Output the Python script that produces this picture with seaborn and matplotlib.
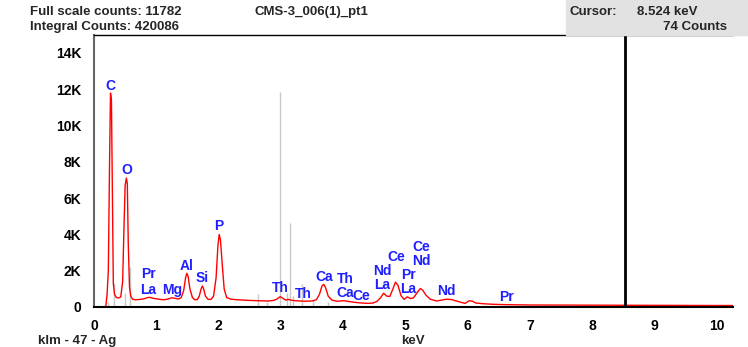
import matplotlib
matplotlib.use("Agg")
import matplotlib.pyplot as plt
import matplotlib.patches as mpatches
import seaborn as sns
import pandas as pd

# ---------------- data ----------------
spec_kev = [0.17, 0.19, 0.21, 0.23, 0.25, 0.265, 0.28, 0.295, 0.31, 0.33, 0.36, 0.40,
            0.43, 0.46, 0.48, 0.50, 0.52, 0.535, 0.55, 0.57, 0.59, 0.62, 0.66, 0.72,
            0.80, 0.86, 0.90, 0.95, 1.00, 1.06, 1.12, 1.18, 1.25, 1.30, 1.36, 1.40,
            1.44, 1.47, 1.49, 1.51, 1.54, 1.58, 1.62, 1.66, 1.69, 1.72, 1.74, 1.76,
            1.79, 1.83, 1.88, 1.92, 1.96, 1.99, 2.01, 2.03, 2.06, 2.09, 2.13, 2.20,
            2.30, 2.40, 2.50, 2.60, 2.70, 2.80, 2.88, 2.93, 2.99, 3.04, 3.08, 3.12,
            3.16, 3.22, 3.30, 3.40, 3.50, 3.57, 3.62, 3.66, 3.69, 3.72, 3.76, 3.82,
            3.90, 3.96, 4.01, 4.06, 4.12, 4.20, 4.30, 4.40, 4.48, 4.54, 4.60, 4.65,
            4.70, 4.75, 4.80, 4.84, 4.88, 4.93, 4.98, 5.03, 5.08, 5.13, 5.19, 5.24,
            5.28, 5.33, 5.40, 5.50, 5.58, 5.66, 5.74, 5.82, 5.90, 5.96, 6.02, 6.07,
            6.13, 6.25, 6.40, 6.60, 6.80, 7.00, 7.50, 8.00, 8.50, 9.00, 9.50, 10.00,
            10.26]
spec_counts = [0, 60, 700, 2000, 8000, 11782, 11400, 6500, 1300, 700, 520, 500,
               560, 1400, 4200, 6700, 7100, 6800, 3500, 1100, 600, 430, 400, 410,
               450, 520, 530, 480, 450, 420, 400, 430, 510, 480, 440, 520,
               900, 1600, 1855, 1700, 1000, 520, 400, 410, 600, 1000, 1156, 1000,
               600, 420, 420, 600, 1600, 3400, 4000, 3700, 2300, 1000, 520, 430,
               400, 380, 360, 350, 340, 330, 360, 420, 570, 460, 380, 420,
               380, 350, 330, 320, 330, 400, 700, 1150, 1250, 1050, 600, 380,
               320, 330, 350, 320, 290, 250, 220, 200, 220, 300, 500, 760,
               600, 580, 1000, 1370, 1200, 620, 420, 560, 470, 500, 800, 1020,
               920, 650, 430, 330, 380, 430, 410, 330, 250, 200, 340, 330,
               220, 180, 150, 130, 120, 110, 105, 100, 95, 90, 85, 80,
               80]

# light-grey line markers
marker_kev = [0.22, 0.32, 0.49, 0.57, 2.63, 2.78, 2.98, 3.10, 3.14, 3.19, 3.34, 3.52, 3.76]
marker_counts = [300, 1340, 770, 2220, 700, 300, 11820, 770, 4600, 600, 1260, 440, 250]

# element labels
label_text = ["C", "O", "Pr", "La", "Mg", "Al", "Si", "P", "Th", "Th", "Ca", "Th", "Ca",
              "Ce", "Nd", "La", "Ce", "Pr", "La", "Ce", "Nd", "Nd", "Pr"]
label_kev = [0.265, 0.52, 0.875, 0.875, 1.26, 1.48, 1.74, 2.01, 2.99, 3.36, 3.70, 4.03, 4.03,
             4.29, 4.63, 4.63, 4.85, 5.05, 5.05, 5.25, 5.25, 5.66, 6.63]
label_counts = [12170, 7545, 1820, 940, 940, 2260, 1600, 4460, 1040, 720, 1630, 1540, 750,
                630, 1990, 1200, 2750, 1760, 970, 3300, 2540, 880, 570]

y_ticks = [0, 2000, 4000, 6000, 8000, 10000, 12000, 14000]
y_tick_labels = ["0", "2K", "4K", "6K", "8K", "10K", "12K", "14K"]
x_ticks = [0, 1, 2, 3, 4, 5, 6, 7, 8, 9, 10]

cursor_kev = 8.524
title_text = "CMS-3_006(1)_pt1"
full_scale = "Full scale counts: 11782"
integral = "Integral Counts: 420086"
cursor_label = "Cursor:"
cursor_value = "8.524 keV"
cursor_counts = "74 Counts"
left_label = "klm - 47 - Ag"
x_label = "keV"

# ---------------- plotting ----------------
sns.set_style("white")
plt.rcParams["font.family"] = ["Liberation Sans", "DejaVu Sans"]
plt.rcParams["font.weight"] = "bold"

fig = plt.figure(figsize=(7.48, 3.47), dpi=100)
ax = fig.add_axes([94 / 748, 1 - 307 / 347, (733 - 94) / 748, (307 - 35) / 347])

ax.vlines(marker_kev, 0, marker_counts, color="#c8c8c8", linewidth=1.0, zorder=1)

df = pd.DataFrame({"keV": spec_kev, "counts": spec_counts})
sns.lineplot(data=df, x="keV", y="counts", ax=ax, color="#ff0000", linewidth=1.0,
             sort=False, zorder=2)

ax.axvline(cursor_kev, color="black", linewidth=2.0, zorder=3)

for t, xk, yc in zip(label_text, label_kev, label_counts):
    ax.text(xk, yc, t, color="#1f1fff", fontsize=10, fontweight="bold",
            ha="center", va="center", zorder=4)

ax.set_xlim(0, 10.26)
ax.set_ylim(0, 14980)
ax.set_xticks(x_ticks)
ax.set_xticklabels([str(v) for v in x_ticks])
ax.set_yticks(y_ticks)
ax.set_yticklabels(y_tick_labels)
ax.set_xlabel("")
ax.set_ylabel("")
ax.tick_params(axis="both", direction="out", length=7, width=1.5, color="#333333",
               labelsize=10, labelcolor="black", pad=2)
for lab in ax.get_xticklabels() + ax.get_yticklabels():
    lab.set_fontweight("bold")

for side in ["left", "bottom", "top"]:
    ax.spines[side].set_visible(True)
ax.spines["right"].set_visible(False)
ax.spines["left"].set_color("#666666")
ax.spines["left"].set_linewidth(1.5)
ax.spines["bottom"].set_color("black")
ax.spines["bottom"].set_linewidth(1.5)
ax.spines["top"].set_color("black")
ax.spines["top"].set_linewidth(1.0)

# header
fig.patches.append(mpatches.Rectangle((566 / 748, 1 - 35 / 347), 182 / 748, 35 / 347,
                                      transform=fig.transFigure, color="#e2e2e2", zorder=0))
fig.text(30 / 748, 1 - 12 / 347, full_scale, fontsize=9.5, fontweight="bold", va="center", ha="left")
fig.text(30 / 748, 1 - 27 / 347, integral, fontsize=9.5, fontweight="bold", va="center", ha="left")
fig.text(311 / 748, 1 - 12 / 347, title_text, fontsize=9.5, fontweight="bold", va="center", ha="center")
fig.text(569 / 748, 1 - 12 / 347, cursor_label, fontsize=9.5, fontweight="bold", va="center", ha="left")
fig.text(637 / 748, 1 - 12 / 347, cursor_value, fontsize=9.5, fontweight="bold", va="center", ha="left")
fig.text(727 / 748, 1 - 27 / 347, cursor_counts, fontsize=9.5, fontweight="bold", va="center", ha="right")
fig.text(38 / 748, 1 - 341 / 347, left_label, fontsize=9.5, fontweight="bold", va="center", ha="left")
fig.text(413 / 748, 1 - 341 / 347, x_label, fontsize=9.5, fontweight="bold", va="center", ha="center")

fig.savefig("out.png", dpi=100)
